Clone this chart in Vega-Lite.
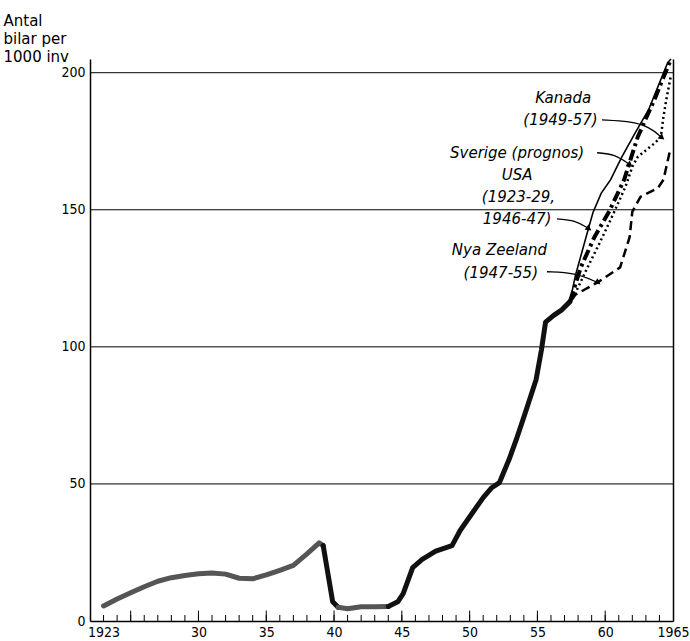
{
  "$schema": "https://vega.github.io/schema/vega-lite/v6.json",
  "width": 583,
  "height": 562,
  "autosize": {"type": "none"},
  "padding": {"left": 90, "top": 59, "right": 17, "bottom": 20},
  "background": "white",
  "config": {
    "view": {"stroke": null},
    "axis": {
      "labelFont": "DejaVu Sans Condensed",
      "labelFontSize": 14,
      "labelColor": "black",
      "domainColor": "black",
      "tickColor": "black",
      "titleFont": "DejaVu Sans",
      "titleColor": "black",
      "titleFontWeight": "normal"
    }
  },
  "datasets": {
    "grid": [{"value": 50}, {"value": 100}, {"value": 150}, {"value": 200}],
    "ticks": [
      {"year": 1923}, {"year": 1924}, {"year": 1925}, {"year": 1926}, {"year": 1927}, {"year": 1928}, {"year": 1929},
      {"year": 1930}, {"year": 1931}, {"year": 1932}, {"year": 1933}, {"year": 1934}, {"year": 1935}, {"year": 1936},
      {"year": 1937}, {"year": 1938}, {"year": 1939}, {"year": 1940}, {"year": 1941}, {"year": 1942}, {"year": 1943},
      {"year": 1944}, {"year": 1945}, {"year": 1946}, {"year": 1947}, {"year": 1948}, {"year": 1949}, {"year": 1950},
      {"year": 1951}, {"year": 1952}, {"year": 1953}, {"year": 1954}, {"year": 1955}, {"year": 1956}, {"year": 1957},
      {"year": 1958}, {"year": 1959}, {"year": 1960}, {"year": 1961}, {"year": 1962}, {"year": 1963}, {"year": 1964}
    ],
    "hist": [
      {"seg": "a", "tone": "grey", "year": 1923, "value": 5.5},
      {"seg": "a", "tone": "grey", "year": 1924, "value": 8},
      {"seg": "a", "tone": "grey", "year": 1925, "value": 10.3},
      {"seg": "a", "tone": "grey", "year": 1926, "value": 12.5},
      {"seg": "a", "tone": "grey", "year": 1927, "value": 14.5},
      {"seg": "a", "tone": "grey", "year": 1928, "value": 15.8},
      {"seg": "a", "tone": "grey", "year": 1929, "value": 16.6},
      {"seg": "a", "tone": "grey", "year": 1930, "value": 17.2},
      {"seg": "a", "tone": "grey", "year": 1931, "value": 17.5},
      {"seg": "a", "tone": "grey", "year": 1932, "value": 17.1},
      {"seg": "a", "tone": "grey", "year": 1933, "value": 15.6},
      {"seg": "a", "tone": "grey", "year": 1934, "value": 15.4},
      {"seg": "a", "tone": "grey", "year": 1935, "value": 16.8},
      {"seg": "a", "tone": "grey", "year": 1936, "value": 18.5},
      {"seg": "a", "tone": "grey", "year": 1937, "value": 20.3},
      {"seg": "a", "tone": "grey", "year": 1938, "value": 24.5},
      {"seg": "a", "tone": "grey", "year": 1938.9, "value": 28.5},
      {"seg": "a", "tone": "grey", "year": 1939.2, "value": 27.5},
      {"seg": "b", "tone": "black", "year": 1939.2, "value": 27.5},
      {"seg": "b", "tone": "black", "year": 1939.9, "value": 7},
      {"seg": "b", "tone": "black", "year": 1940.3, "value": 5},
      {"seg": "c", "tone": "grey", "year": 1940.3, "value": 5},
      {"seg": "c", "tone": "grey", "year": 1941, "value": 4.5},
      {"seg": "c", "tone": "grey", "year": 1942, "value": 5.2},
      {"seg": "c", "tone": "grey", "year": 1943, "value": 5.2},
      {"seg": "c", "tone": "grey", "year": 1944, "value": 5.3},
      {"seg": "d", "tone": "black", "year": 1944, "value": 5.3},
      {"seg": "d", "tone": "black", "year": 1944.7, "value": 7},
      {"seg": "d", "tone": "black", "year": 1945.1, "value": 10},
      {"seg": "d", "tone": "black", "year": 1945.8, "value": 19.5},
      {"seg": "d", "tone": "black", "year": 1946.5, "value": 22.5},
      {"seg": "d", "tone": "black", "year": 1947.5, "value": 25.5},
      {"seg": "d", "tone": "black", "year": 1948.7, "value": 27.5},
      {"seg": "d", "tone": "black", "year": 1949.3, "value": 33},
      {"seg": "d", "tone": "black", "year": 1950.2, "value": 39.4},
      {"seg": "d", "tone": "black", "year": 1951, "value": 45},
      {"seg": "d", "tone": "black", "year": 1951.6, "value": 48.5},
      {"seg": "d", "tone": "black", "year": 1952.2, "value": 50.5},
      {"seg": "d", "tone": "black", "year": 1952.9, "value": 58.8},
      {"seg": "d", "tone": "black", "year": 1953.5, "value": 67},
      {"seg": "d", "tone": "black", "year": 1954.1, "value": 75.9},
      {"seg": "d", "tone": "black", "year": 1954.9, "value": 88},
      {"seg": "d", "tone": "black", "year": 1955.3, "value": 99},
      {"seg": "d", "tone": "black", "year": 1955.6, "value": 109},
      {"seg": "d", "tone": "black", "year": 1956.2, "value": 111.5},
      {"seg": "d", "tone": "black", "year": 1956.8, "value": 113.5},
      {"seg": "d", "tone": "black", "year": 1957.4, "value": 116.5}
    ],
    "proj": [
      {"series": "USA", "year": 1957.4, "value": 116.5},
      {"series": "USA", "year": 1957.8, "value": 126},
      {"series": "USA", "year": 1958.8, "value": 143.8},
      {"series": "USA", "year": 1959.1, "value": 149},
      {"series": "USA", "year": 1959.7, "value": 156},
      {"series": "USA", "year": 1960.4, "value": 161},
      {"series": "USA", "year": 1961.2, "value": 169},
      {"series": "USA", "year": 1962.2, "value": 178},
      {"series": "USA", "year": 1963.2, "value": 186.5},
      {"series": "USA", "year": 1964.6, "value": 203.6},
      {"series": "USA", "year": 1964.85, "value": 205},
      {"series": "Sverige", "year": 1957.4, "value": 116.5},
      {"series": "Sverige", "year": 1958.2, "value": 129},
      {"series": "Sverige", "year": 1959.2, "value": 140},
      {"series": "Sverige", "year": 1960.3, "value": 149.5},
      {"series": "Sverige", "year": 1961.4, "value": 161},
      {"series": "Sverige", "year": 1962.4, "value": 176.6},
      {"series": "Sverige", "year": 1963.7, "value": 191},
      {"series": "Sverige", "year": 1964.6, "value": 202},
      {"series": "Sverige", "year": 1964.85, "value": 205},
      {"series": "Kanada", "year": 1957.6, "value": 117.5},
      {"series": "Kanada", "year": 1958.6, "value": 128},
      {"series": "Kanada", "year": 1959.6, "value": 138},
      {"series": "Kanada", "year": 1960.6, "value": 148.5},
      {"series": "Kanada", "year": 1961.5, "value": 158.5},
      {"series": "Kanada", "year": 1962, "value": 165.7},
      {"series": "Kanada", "year": 1962.4, "value": 169.3},
      {"series": "Kanada", "year": 1963.7, "value": 174.5},
      {"series": "Kanada", "year": 1964.1, "value": 176.6},
      {"series": "Kanada", "year": 1964.3, "value": 184},
      {"series": "Kanada", "year": 1964.5, "value": 190},
      {"series": "Kanada", "year": 1964.85, "value": 199},
      {"series": "Nya Zeeland", "year": 1957.5, "value": 117},
      {"series": "Nya Zeeland", "year": 1957.8, "value": 119},
      {"series": "Nya Zeeland", "year": 1959.5, "value": 123.7},
      {"series": "Nya Zeeland", "year": 1961.1, "value": 129},
      {"series": "Nya Zeeland", "year": 1961.8, "value": 140},
      {"series": "Nya Zeeland", "year": 1962, "value": 149.3},
      {"series": "Nya Zeeland", "year": 1962.6, "value": 154.7},
      {"series": "Nya Zeeland", "year": 1963.9, "value": 158},
      {"series": "Nya Zeeland", "year": 1964.3, "value": 161},
      {"series": "Nya Zeeland", "year": 1964.75, "value": 171}
    ],
    "arrows": [
      {"arrow": "Kanada", "year": 1959.76, "value": 182.8},
      {"arrow": "Kanada", "year": 1961.83, "value": 182.3},
      {"arrow": "Kanada", "year": 1963.3, "value": 180.2},
      {"arrow": "Kanada", "year": 1964.19, "value": 176.3},
      {"arrow": "Sverige", "year": 1959.4, "value": 170.8},
      {"arrow": "Sverige", "year": 1960.7, "value": 170.3},
      {"arrow": "Sverige", "year": 1961.83, "value": 166.4},
      {"arrow": "USA", "year": 1956.44, "value": 146.7},
      {"arrow": "USA", "year": 1957.77, "value": 146.2},
      {"arrow": "USA", "year": 1958.8, "value": 143.1},
      {"arrow": "Nya Zeeland", "year": 1955.7, "value": 127.4},
      {"arrow": "Nya Zeeland", "year": 1957.77, "value": 127.1},
      {"arrow": "Nya Zeeland", "year": 1959.47, "value": 123.4}
    ],
    "tips": [
      {"arrow": "Kanada", "year": 1964.19, "value": 176.3},
      {"arrow": "Sverige", "year": 1961.83, "value": 166.4},
      {"arrow": "USA", "year": 1958.8, "value": 143.1},
      {"arrow": "Nya Zeeland", "year": 1959.47, "value": 123.4}
    ],
    "labels": [
      {"text": "Kanada", "year": 1956.9, "value": 190.9},
      {"text": "(1949-57)", "year": 1956.7, "value": 182.8},
      {"text": "Sverige (prognos)", "year": 1953.5, "value": 170.8},
      {"text": "USA", "year": 1953.5, "value": 162.8},
      {"text": "(1923-29,", "year": 1953.6, "value": 154.7},
      {"text": "1946-47)", "year": 1953.5, "value": 146.7},
      {"text": "Nya Zeeland", "year": 1952.2, "value": 135.4},
      {"text": "(1947-55)", "year": 1952.3, "value": 127}
    ]
  },
  "layer": [
    {
      "data": {"name": "grid"},
      "mark": {"type": "rule", "color": "black", "strokeWidth": 1},
      "encoding": {
        "y": {
          "field": "value", "type": "quantitative",
          "scale": {"domain": [0, 205], "nice": false, "zero": true},
          "axis": {
            "orient": "left",
            "values": [0, 50, 100, 150, 200],
            "ticks": false,
            "grid": false,
            "domainWidth": 1.5,
            "labelPadding": 5,
            "title": ["Antal", "bilar per", "1000 inv"],
            "titleFontSize": 15,
            "titleAngle": 0,
            "titleAlign": "left",
            "titleBaseline": "top",
            "titleLineHeight": 18,
            "titleX": -87,
            "titleY": -46
          }
        }
      }
    },
    {
      "data": {"name": "ticks"},
      "mark": {"type": "rule", "color": "black", "strokeWidth": 1},
      "encoding": {
        "x": {"field": "year", "type": "quantitative", "scale": {"domain": [1922, 1965], "nice": false, "zero": false}, "axis": null},
        "y": {"datum": 0, "type": "quantitative", "scale": {"domain": [0, 205], "nice": false}, "axis": null},
        "y2": {"datum": 2.2}
      }
    },
    {
      "data": {"name": "ticks"},
      "transform": [{"filter": "datum.year % 5 == 0"}],
      "mark": {"type": "rule", "color": "black", "strokeWidth": 1},
      "encoding": {
        "x": {"field": "year", "type": "quantitative", "scale": {"domain": [1922, 1965], "nice": false, "zero": false}, "axis": null},
        "y": {"datum": 0, "type": "quantitative", "scale": {"domain": [0, 205], "nice": false}, "axis": null},
        "y2": {"datum": 3.8}
      }
    },
    {
      "data": {"name": "hist"},
      "mark": {"type": "line", "strokeWidth": 5, "strokeCap": "round", "strokeJoin": "round"},
      "encoding": {
        "x": {
          "field": "year", "type": "quantitative",
          "scale": {"domain": [1922, 1965], "nice": false, "zero": false},
          "axis": {
            "orient": "bottom",
            "values": [1923, 1930, 1935, 1940, 1945, 1950, 1955, 1960, 1965],
            "labelExpr": "datum.value == 1923 || datum.value == 1965 ? toString(datum.value) : slice(toString(datum.value), 2)",
            "ticks": false,
            "domain": true,
            "domainWidth": 1.5,
            "grid": false,
            "labelPadding": 4,
            "labelFlush": false,
            "labelOverlap": false,
            "title": null
          }
        },
        "y": {
          "field": "value", "type": "quantitative",
          "scale": {"domain": [0, 205], "nice": false},
          "axis": {"orient": "right", "labels": false, "ticks": false, "grid": false, "domainWidth": 1.5, "title": null}
        },
        "detail": {"field": "seg"},
        "color": {
          "field": "tone", "type": "nominal",
          "scale": {"domain": ["grey", "black"], "range": ["#555555", "#111111"]},
          "legend": null
        }
      }
    },
    {
      "data": {"name": "proj"},
      "transform": [{"filter": "datum.series == 'USA'"}],
      "mark": {"type": "line", "color": "black", "strokeWidth": 1.6},
      "encoding": {
        "x": {"field": "year", "type": "quantitative", "scale": {"domain": [1922, 1965], "nice": false, "zero": false}, "axis": null},
        "y": {"field": "value", "type": "quantitative", "scale": {"domain": [0, 205], "nice": false}, "axis": null}
      }
    },
    {
      "data": {"name": "proj"},
      "transform": [{"filter": "datum.series == 'Sverige'"}],
      "mark": {"type": "line", "color": "black", "strokeWidth": 4, "strokeDash": [11, 4, 3, 4]},
      "encoding": {
        "x": {"field": "year", "type": "quantitative", "scale": {"domain": [1922, 1965], "nice": false, "zero": false}, "axis": null},
        "y": {"field": "value", "type": "quantitative", "scale": {"domain": [0, 205], "nice": false}, "axis": null}
      }
    },
    {
      "data": {"name": "proj"},
      "transform": [{"filter": "datum.series == 'Kanada'"}],
      "mark": {"type": "line", "color": "black", "strokeWidth": 2.5, "strokeDash": [2, 3]},
      "encoding": {
        "x": {"field": "year", "type": "quantitative", "scale": {"domain": [1922, 1965], "nice": false, "zero": false}, "axis": null},
        "y": {"field": "value", "type": "quantitative", "scale": {"domain": [0, 205], "nice": false}, "axis": null}
      }
    },
    {
      "data": {"name": "proj"},
      "transform": [{"filter": "datum.series == 'Nya Zeeland'"}],
      "mark": {"type": "line", "color": "black", "strokeWidth": 2.5, "strokeDash": [9, 5]},
      "encoding": {
        "x": {"field": "year", "type": "quantitative", "scale": {"domain": [1922, 1965], "nice": false, "zero": false}, "axis": null},
        "y": {"field": "value", "type": "quantitative", "scale": {"domain": [0, 205], "nice": false}, "axis": null}
      }
    },
    {
      "data": {"name": "arrows"},
      "mark": {"type": "line", "color": "black", "strokeWidth": 1.3, "interpolate": "basis"},
      "encoding": {
        "x": {"field": "year", "type": "quantitative", "scale": {"domain": [1922, 1965], "nice": false, "zero": false}, "axis": null},
        "y": {"field": "value", "type": "quantitative", "scale": {"domain": [0, 205], "nice": false}, "axis": null},
        "detail": {"field": "arrow"}
      }
    },
    {
      "data": {"name": "tips"},
      "mark": {"type": "point", "shape": "triangle-right", "filled": true, "color": "black", "size": 45, "opacity": 1},
      "encoding": {
        "x": {"field": "year", "type": "quantitative", "scale": {"domain": [1922, 1965], "nice": false, "zero": false}, "axis": null},
        "y": {"field": "value", "type": "quantitative", "scale": {"domain": [0, 205], "nice": false}, "axis": null},
        "angle": {
          "field": "arrow", "type": "nominal",
          "scale": {"domain": ["Kanada", "Sverige", "USA", "Nya Zeeland"], "range": [40, 34, 30, 23]},
          "legend": null
        }
      }
    },
    {
      "data": {"name": "labels"},
      "mark": {"type": "text", "font": "DejaVu Sans", "fontStyle": "italic", "fontSize": 15, "align": "center", "baseline": "middle", "color": "black"},
      "encoding": {
        "x": {"field": "year", "type": "quantitative", "scale": {"domain": [1922, 1965], "nice": false, "zero": false}, "axis": null},
        "y": {"field": "value", "type": "quantitative", "scale": {"domain": [0, 205], "nice": false}, "axis": null},
        "text": {"field": "text"}
      }
    }
  ],
  "resolve": {"axis": {"x": "independent", "y": "independent"}}
}
